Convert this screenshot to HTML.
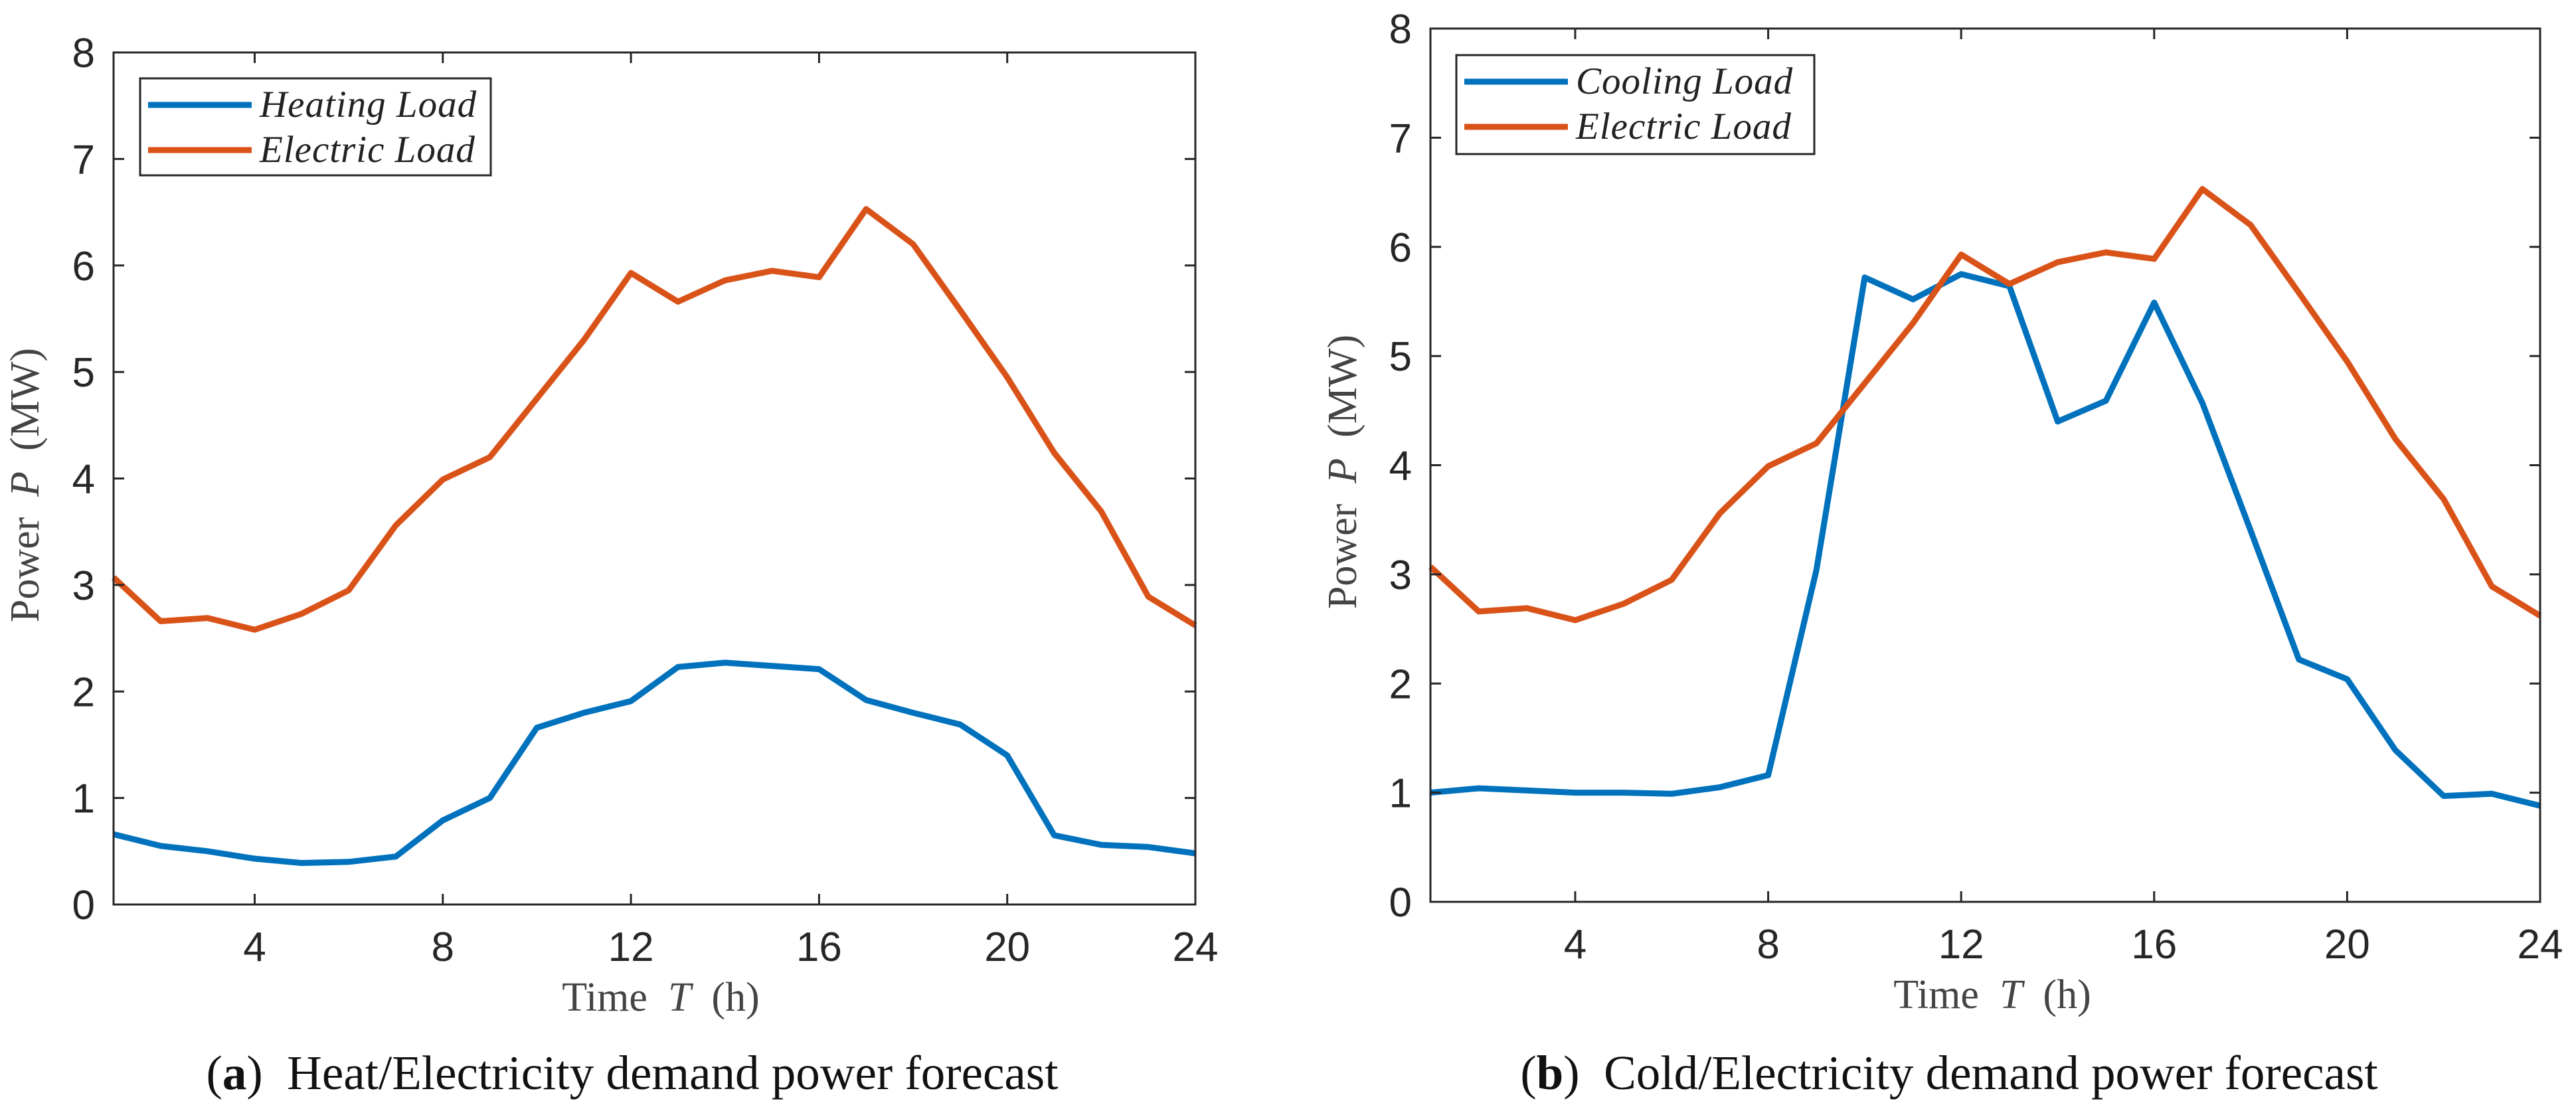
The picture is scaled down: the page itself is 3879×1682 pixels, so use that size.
<!DOCTYPE html>
<html><head><meta charset="utf-8">
<style>
html,body{margin:0;padding:0;background:#fff;}
svg{display:block;}
svg text{white-space:pre;}
</style></head>
<body>
<svg id="fig" width="3879" height="1682" viewBox="0 0 3879 1682" xmlns="http://www.w3.org/2000/svg">
<rect width="3879" height="1682" fill="#fff"/>
</svg>
<script>
const hours = [1,2,3,4,5,6,7,8,9,10,11,12,13,14,15,16,17,18,19,20,21,22,23,24];
const electricLoad = [3.07,2.66,2.69,2.58,2.73,2.95,3.56,3.99,4.2,4.75,5.3,5.93,5.66,5.86,5.95,5.89,6.53,6.2,5.58,4.95,4.24,3.69,2.89,2.62];
const heatingLoad = [0.66,0.55,0.5,0.43,0.39,0.4,0.45,0.79,1.0,1.66,1.8,1.91,2.23,2.27,2.24,2.21,1.92,1.8,1.69,1.4,0.65,0.56,0.54,0.48];
const coolingLoad = [1.0,1.04,1.02,1.0,1.0,0.99,1.05,1.16,3.04,5.72,5.52,5.75,5.64,4.4,4.59,5.49,4.57,3.4,2.22,2.04,1.39,0.97,0.99,0.88];
const xTicks = [4,8,12,16,20,24];
const yTicks = [0,1,2,3,4,5,6,7,8];

const NS = 'http://www.w3.org/2000/svg';
const svg = document.getElementById('fig');
function mk(tag, attrs, parent){
  const e = document.createElementNS(NS, tag);
  for (const k in attrs) e.setAttribute(k, attrs[k]);
  (parent||svg).appendChild(e);
  return e;
}

function panel(cfg){
  const g = mk('g', {});
  
  
  const L=cfg.left, R=cfg.right, T=cfg.top, B=cfg.bottom;
  const xs = v => L + (v-1)/(24-1)*(R-L);
  const ys = v => B - v/8*(B-T);

  cfg.series.forEach(s=>{
    const d = hours.map((h,i)=>(i?'L':'M')+xs(h).toFixed(1)+' '+ys(s.values[i]).toFixed(1)).join(' ');
    const p = mk('path', {d:d, fill:'none', stroke:s.color, 'stroke-width':9, 'stroke-linejoin':'round'}, g);
    
    
  });

  const box = mk('rect', {x:L, y:T, width:R-L, height:B-T, fill:'none', stroke:'#262626', 'stroke-width':3}, g);
  
  

  xTicks.forEach(t=>{
    const x = xs(t);
    mk('line',{x1:x,y1:B,x2:x,y2:B-16,stroke:'#262626','stroke-width':3},g);
    mk('line',{x1:x,y1:T,x2:x,y2:T+16,stroke:'#262626','stroke-width':3},g);
    const tx = mk('text',{x:x,y:B+85,'text-anchor':'middle','font-family':'Liberation Sans, sans-serif','font-size':62,fill:'#262626'},g);
    tx.textContent = t;
    
    
  });
  yTicks.forEach(t=>{
    const y = ys(t);
    if (t>0 && t<8){
      mk('line',{x1:L,y1:y,x2:L+16,y2:y,stroke:'#262626','stroke-width':3},g);
      mk('line',{x1:R,y1:y,x2:R-16,y2:y,stroke:'#262626','stroke-width':3},g);
    }
    const ty = mk('text',{x:L-28,y:y+22,'text-anchor':'end','font-family':'Liberation Sans, sans-serif','font-size':62,fill:'#262626'},g);
    ty.textContent = t;
    
    
  });

  const xt = mk('text',{x:cfg.xTitleX,y:B+160,'text-anchor':'middle','font-family':'Liberation Serif, serif','font-size':62,fill:'#444'},g);
  xt.innerHTML = 'Time  <tspan font-style="italic">T</tspan>  (h)';
  
  
  const cy = (T+B)/2+10;
  const yt = mk('text',{x:cfg.yTitleX,y:cy,'text-anchor':'middle','font-family':'Liberation Serif, serif','font-size':62,fill:'#444',transform:'rotate(-90 '+cfg.yTitleX+' '+cy+')'},g);
  yt.innerHTML = 'Power  <tspan font-style="italic">P</tspan>  (MW)';
  
  

  const lg = mk('g',{},g);
  
  
  const lb = cfg.legend;
  mk('rect',{x:lb.x,y:lb.y,width:lb.w,height:lb.h,fill:'#fff',stroke:'#262626','stroke-width':3},lg);
  cfg.series.forEach((s,i)=>{
    const ry = lb.y + 40 + i*68;
    const e = mk('g',{},lg);
    
    
    mk('line',{x1:lb.x+12,y1:ry,x2:lb.x+168,y2:ry,stroke:s.color,'stroke-width':9},e);
    const t = mk('text',{x:lb.x+180,y:ry+18,'font-family':'Liberation Serif, serif','font-style':'italic','font-size':57,'letter-spacing':1,fill:'#222'},e);
    t.textContent = s.label;
  });

  const cap = mk('text',{x:cfg.capX,y:1640,'text-anchor':'middle','font-family':'Liberation Serif, serif','font-size':73,fill:'#111'},g);
  cap.innerHTML = '(<tspan font-weight="bold">'+cfg.capLetter+'</tspan>)  '+cfg.capText;
  
  
}

panel({name:'heat-electric-chart', left:171, right:1800, top:79, bottom:1362,
  xTitleX:995, yTitleX:58, capX:952, capLetter:'a', capText:'Heat/Electricity demand power forecast',
  legend:{x:211,y:118,w:528,h:146},
  series:[{id:'heating-load',label:'Heating Load',color:'#0072BD',values:heatingLoad},
          {id:'electric-load',label:'Electric Load',color:'#D95319',values:electricLoad}]});

panel({name:'cold-electric-chart', left:2154, right:3825, top:43, bottom:1358,
  xTitleX:3000, yTitleX:2042, capX:2935, capLetter:'b', capText:'Cold/Electricity demand power forecast',
  legend:{x:2193,y:83,w:539,h:149},
  series:[{id:'cooling-load',label:'Cooling Load',color:'#0072BD',values:coolingLoad},
          {id:'electric-load',label:'Electric Load',color:'#D95319',values:electricLoad}]});
</script>
</body></html>
